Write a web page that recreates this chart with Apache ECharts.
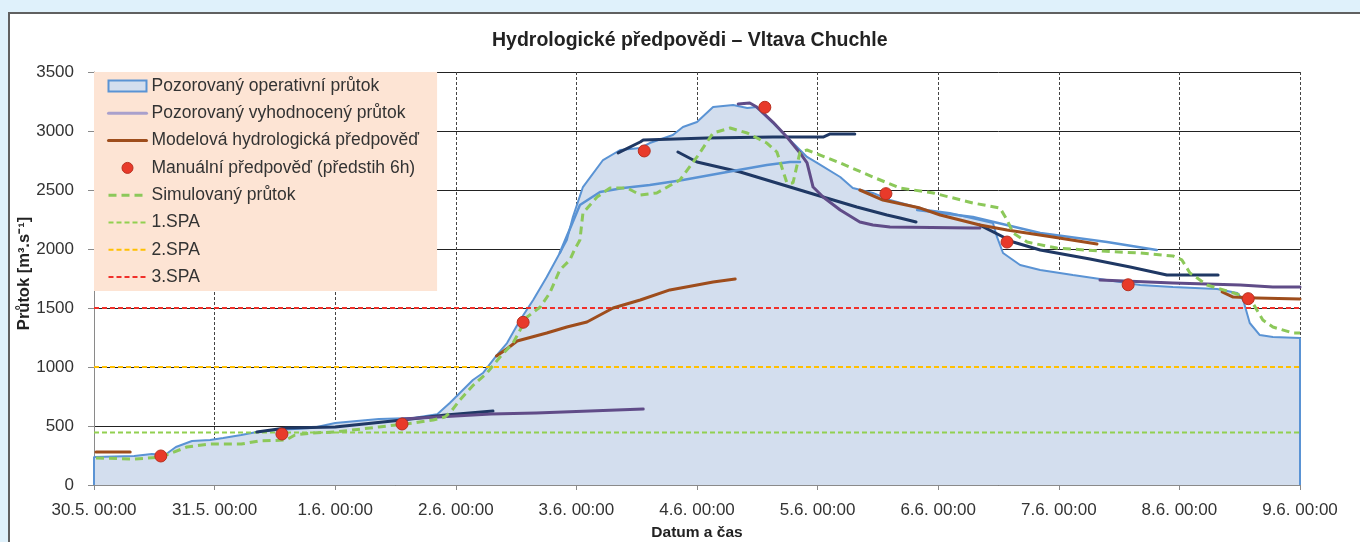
<!DOCTYPE html>
<html>
<head>
<meta charset="utf-8">
<script src="https://cdn.jsdelivr.net/npm/echarts@6/dist/echarts.min.js"></script>
<style>
html,body{margin:0;padding:0;width:1360px;height:542px;overflow:hidden;background:#dff1fb;}
#panel{position:absolute;left:8px;top:12px;width:1400px;height:600px;background:#fff;border-top:2px solid #606060;border-left:2px solid #606060;}
#chart{position:absolute;left:0;top:0;width:1360px;height:542px;}
</style>
</head>
<body>
<div id="panel"></div>
<div id="chart"></div>
<script>
// ---- data (x = hours since 30.5. 00:00, y = flow m3/s) ----
const dayLabels = ['30.5. 00:00','31.5. 00:00','1.6. 00:00','2.6. 00:00','3.6. 00:00','4.6. 00:00','5.6. 00:00','6.6. 00:00','7.6. 00:00','8.6. 00:00','9.6. 00:00'];

const observed = [[0,0],[0,237],[8,246],[11.5,263],[14.1,254],[16.3,322],[19.5,373],[23.1,381],[25.7,398],[29.3,424],[32.4,449],[36.4,466],[43.4,483],[48,525],[52.3,542],[56.7,559],[63.5,568],[68.3,600],[70.8,695],[72.8,780],[75.4,890],[77.4,949],[80.2,1102],[82.2,1203],[84.8,1398],[87.4,1568],[90.1,1763],[92.7,1966],[94.1,2076],[95.3,2271],[97.3,2525],[101.3,2754],[104.7,2839],[108.7,2856],[110.6,2898],[115.2,2966],[117.2,3034],[120,3076],[123.2,3203],[127.2,3220],[130,3195],[131.9,3203],[135.1,3068],[139.1,2898],[141.9,2780],[143.9,2729],[148.5,2610],[151,2517],[155,2475],[158.4,2415],[165.8,2331],[170.3,2305],[178.9,2220],[179.7,2102],[180.9,1966],[184.3,1864],[188.3,1822],[194.8,1780],[200.2,1746],[208.2,1695],[214.7,1678],[223.5,1661],[227.5,1627],[228.7,1568],[230,1373],[232,1271],[234.6,1254],[240,1246],[240,0]];

const simulated = [[0.4,229],[8,220],[13.3,237],[18.5,322],[23.1,347],[29.3,347],[32.8,373],[38.2,381],[40,424],[43.4,441],[48,449],[56.7,492],[63.5,525],[67.5,551],[69.8,576],[71,620],[72.8,720],[75.5,847],[78.2,949],[80.8,1085],[83.4,1203],[86.2,1424],[88.8,1508],[90.7,1627],[92.7,1822],[94.7,1907],[95.6,1992],[96.7,2076],[97.3,2305],[100.1,2441],[102.7,2517],[106.1,2517],[108.7,2458],[112,2475],[116.6,2585],[120,2780],[123.2,2983],[126.6,3025],[130,2983],[133.9,2898],[135.9,2822],[137.9,2559],[139.1,2559],[140.5,2822],[141.9,2839],[148.5,2729],[155,2610],[160.4,2517],[167,2475],[174.9,2390],[180.3,2347],[181.7,2246],[182.9,2136],[185.7,2059],[191.6,2008],[200.2,1983],[208.2,1966],[214.7,1941],[216.5,1907],[218.1,1797],[221.5,1695],[228.1,1610],[230.6,1542],[232.6,1398],[234.6,1339],[238.6,1288],[240,1288]];

const manual = [[13.3,246],[37.4,432],[61.3,517],[85.4,1379],[109.5,2831],[133.5,3201],[157.6,2469],[181.7,2059],[205.8,1697],[229.7,1579]];

// model forecasts (brown)
const modelA = [[0.4,280],[7.2,280]];
const modelB = [[80.1,1093],[82.4,1161],[84.2,1220],[90.1,1288],[94.1,1339],[98.1,1381],[103.3,1500],[108.7,1568],[114.6,1653],[120,1695],[123.2,1720],[127.6,1746]];
const modelC = [[152.4,2500],[157,2415],[164.4,2347],[168.4,2288],[176.3,2203],[181.7,2161],[190.8,2102],[199.6,2042]];
const modelD = [[224.5,1636],[226.7,1593],[231.4,1585],[240,1576]];

// evaluated observed flow (purple)
const evalA = [[61.3,559],[79,602],[88,610],[109.3,644]];
const evalB = [[128.2,3229],[130.5,3237],[131.9,3203],[135.1,3076],[137.9,2949],[140.5,2814],[141.9,2729],[143.1,2525],[145.1,2441],[148.5,2331],[152.4,2229],[155,2203],[158.4,2186],[174.9,2178],[176.3,2178]];
const evalC = [[200.2,1737],[214.7,1712],[228.1,1695],[234.6,1678],[240,1678]];

// other forecast runs (navy, blue)
const navyA = [[32.4,449],[38.2,483],[48,492],[61.3,551],[70,593],[79.4,627]];
const navyB = [[104.3,2814],[108.7,2907],[109.3,2924],[122,2941],[135.1,2949],[145.1,2949],[146.5,2975],[151.4,2975]];
const navyC = [[116.2,2822],[120,2737],[128.6,2653],[138.5,2525],[145.1,2441],[151.8,2356],[157.8,2288],[160.4,2263],[163.6,2229]];
const navyD = [[176.3,2203],[182.9,2059],[188.3,1992],[198.2,1915],[206.2,1847],[213.5,1780],[223.7,1780]];
const blueA = [[92.7,1966],[96.7,2373],[100.7,2483],[105.3,2517],[110.6,2542],[117.2,2585],[126,2653],[133.9,2712],[138.5,2737],[140.5,2737]];
const blueB = [[163.8,2331],[174.9,2271],[188.3,2136],[201.6,2059],[211.5,1992]];

// flood activity levels
const spaLevels = [445, 1000, 1500];
const spaNames = ['1.SPA', '2.SPA', '3.SPA'];

// ---- styles ----
const FONT = "'Liberation Sans', Arial, sans-serif";
const C = {
  areaFill: '#d3deee', areaLine: '#5a93d4', purple: '#604c88', lavender: '#a9a0cc',
  brown: '#9e4d1c', navy: '#1f3864', green: '#8cc85a', red: '#e83a2a',
  spa: ['#92d050', '#ffc000', '#f0302a']
};

function lineSeries(name, data, color, width, z) {
  return { name, type: 'line', data, symbol: 'none', showSymbol: false, z: z || 4,
    lineStyle: { color, width, cap: 'round', join: 'round' }, itemStyle: { color } };
}

const series = [];
series.push({
  name: 'Pozorovaný operativní průtok', type: 'line', data: observed, symbol: 'none', z: 2,
  lineStyle: { color: C.areaLine, width: 2 }, itemStyle: { color: C.areaLine },
  areaStyle: { color: C.areaFill, opacity: 1 }
});
spaLevels.forEach((v, i) => {
  series.push({ name: spaNames[i], type: 'line', data: [[0, v], [240, v]], symbol: 'none', z: 3,
    lineStyle: { color: C.spa[i], width: 2, type: [5, 3] }, itemStyle: { color: C.spa[i] } });
});
[navyA, navyB, navyC, navyD].forEach((d, i) => series.push(lineSeries('navy' + i, d, C.navy, 3)));
[blueA, blueB].forEach((d, i) => series.push(lineSeries('blue' + i, d, C.areaLine, 2.5)));
[evalA, evalB, evalC].forEach(d => series.push(lineSeries('Pozorovaný vyhodnocený průtok', d, C.purple, 3)));
[modelA, modelB, modelC, modelD].forEach(d => series.push(lineSeries('Modelová hydrologická předpověď', d, C.brown, 3)));
series.push({ name: 'Simulovaný průtok', type: 'line', data: simulated, symbol: 'none', z: 5,
  lineStyle: { color: C.green, width: 3, type: [8, 5] }, itemStyle: { color: C.green } });
series.push({ name: 'Manuální předpověď (předstih 6h)', type: 'scatter', data: manual, symbol: 'circle', symbolSize: 12, z: 6,
  itemStyle: { color: C.red, borderColor: '#b83020', borderWidth: 1, opacity: 1 } });

const legendData = [
  { name: 'Pozorovaný operativní průtok', icon: 'rect', itemStyle: { color: C.areaFill, borderColor: C.areaLine, borderWidth: 2, opacity: 1 } },
  { name: 'Pozorovaný vyhodnocený průtok', lineStyle: { color: C.lavender, width: 3 } },
  { name: 'Modelová hydrologická předpověď', lineStyle: { color: C.brown, width: 3 } },
  { name: 'Manuální předpověď (předstih 6h)', icon: 'circle', itemStyle: { color: C.red, borderColor: '#b83020', borderWidth: 1, opacity: 1 } },
  { name: 'Simulovaný průtok', lineStyle: { color: C.green, width: 3, type: [8, 5] } },
  { name: '1.SPA' }, { name: '2.SPA' }, { name: '3.SPA' }
];

const chart = echarts.init(document.getElementById('chart'), null, { renderer: 'canvas' });
chart.setOption({
  animation: false,
  backgroundColor: 'transparent',
  textStyle: { fontFamily: FONT },
  title: { text: 'Hydrologické předpovědi – Vltava Chuchle', left: 487, top: 26,
    textStyle: { fontFamily: FONT, fontSize: 19.5, fontWeight: 'bold', color: '#222' } },
  grid: { left: 94, top: 72, right: 60, bottom: 57, containLabel: false, outerBoundsMode: 'none' },
  legend: {
    orient: 'vertical', left: 94, top: 72, data: legendData,
    backgroundColor: '#fde4d4', padding: [4, 18, 4, 13], itemGap: 7.3,
    itemWidth: 38, itemHeight: 11, selectedMode: false,
    itemStyle: { opacity: 0 },
    textStyle: { fontFamily: FONT, fontSize: 17.5, color: '#333', lineHeight: 20 }
  },
  xAxis: {
    type: 'value', min: 0, max: 240, interval: 24,
    name: 'Datum a čas', nameLocation: 'middle', nameGap: 40, nameMoveOverlap: false,
    nameTextStyle: { fontFamily: FONT, fontSize: 15.5, fontWeight: 'bold', color: '#222' },
    axisLine: { show: true, lineStyle: { color: '#8a8a8a' } },
    axisTick: { show: true, length: 5, lineStyle: { color: '#8a8a8a' } },
    axisLabel: { formatter: v => dayLabels[Math.round(v / 24)], fontSize: 17, color: '#333', margin: 17, fontFamily: FONT },
    splitLine: { show: true, lineStyle: { color: '#444', width: 1, type: [3, 2] } }
  },
  yAxis: {
    type: 'value', min: 0, max: 3500, interval: 500,
    name: 'Průtok [m³.s⁻¹]', nameLocation: 'middle', nameGap: 61, nameRotate: 90, nameMoveOverlap: false,
    nameTextStyle: { fontFamily: FONT, fontSize: 16.5, fontWeight: 'bold', color: '#222', padding: [0, 0, 0, 10] },
    axisLine: { show: true, lineStyle: { color: '#8a8a8a' } },
    axisTick: { show: true, length: 6, lineStyle: { color: '#8a8a8a' } },
    axisLabel: { formatter: v => String(v), fontSize: 17, color: '#333', margin: 20, fontFamily: FONT },
    splitLine: { show: true, lineStyle: { color: '#222', width: 1 } }
  },
  series
});
</script>
</body>
</html>
